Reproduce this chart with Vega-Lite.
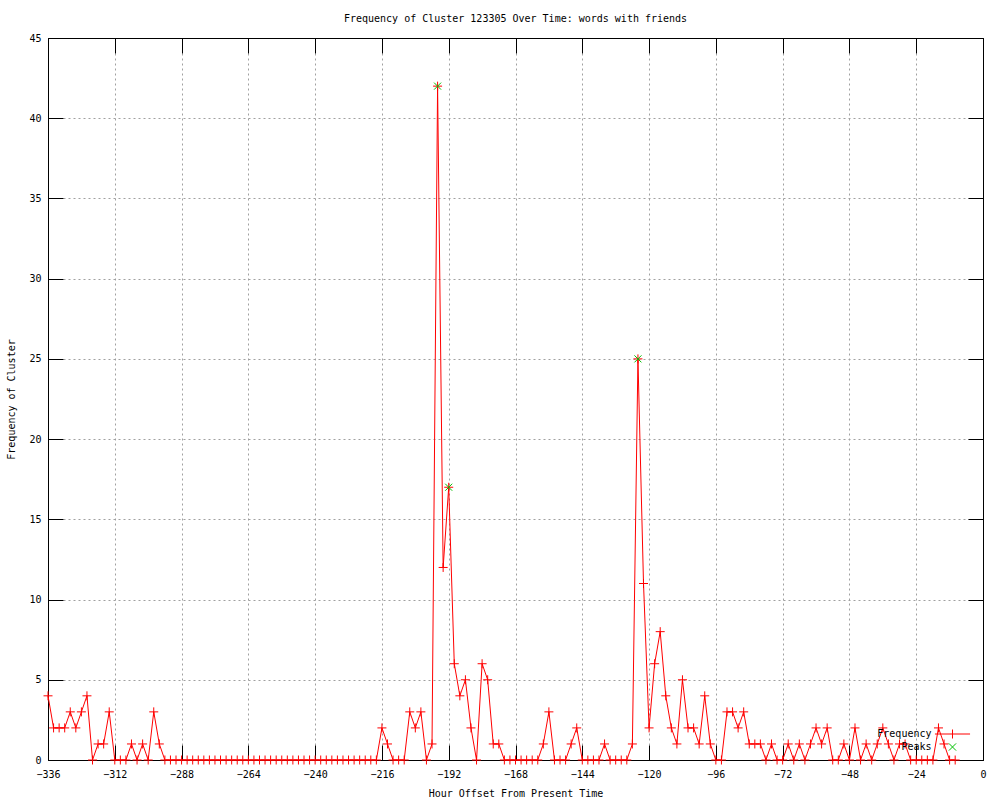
{
  "$schema": "https://vega.github.io/schema/vega-lite/v6.json",
  "width": 935,
  "height": 722,
  "autosize": {"type": "none"},
  "padding": {"left": 48, "top": 38, "right": 17, "bottom": 40},
  "background": "white",
  "title": {
    "text": "Frequency of Cluster 123305 Over Time: words with friends",
    "font": "DejaVu Sans Mono",
    "fontSize": 10,
    "fontWeight": "normal",
    "color": "black",
    "anchor": "middle",
    "offset": 9
  },
  "datasets": {
    "freq": [
      {"hour": -336, "freq": 4}, {"hour": -334, "freq": 2}, {"hour": -332, "freq": 2}, {"hour": -330, "freq": 2},
      {"hour": -328, "freq": 3}, {"hour": -326, "freq": 2}, {"hour": -324, "freq": 3}, {"hour": -322, "freq": 4},
      {"hour": -320, "freq": 0}, {"hour": -318, "freq": 1}, {"hour": -316, "freq": 1}, {"hour": -314, "freq": 3},
      {"hour": -312, "freq": 0}, {"hour": -310, "freq": 0}, {"hour": -308, "freq": 0}, {"hour": -306, "freq": 1},
      {"hour": -304, "freq": 0}, {"hour": -302, "freq": 1}, {"hour": -300, "freq": 0}, {"hour": -298, "freq": 3},
      {"hour": -296, "freq": 1}, {"hour": -294, "freq": 0}, {"hour": -292, "freq": 0}, {"hour": -290, "freq": 0},
      {"hour": -288, "freq": 0}, {"hour": -286, "freq": 0}, {"hour": -284, "freq": 0}, {"hour": -282, "freq": 0},
      {"hour": -280, "freq": 0}, {"hour": -278, "freq": 0}, {"hour": -276, "freq": 0}, {"hour": -274, "freq": 0},
      {"hour": -272, "freq": 0}, {"hour": -270, "freq": 0}, {"hour": -268, "freq": 0}, {"hour": -266, "freq": 0},
      {"hour": -264, "freq": 0}, {"hour": -262, "freq": 0}, {"hour": -260, "freq": 0}, {"hour": -258, "freq": 0},
      {"hour": -256, "freq": 0}, {"hour": -254, "freq": 0}, {"hour": -252, "freq": 0}, {"hour": -250, "freq": 0},
      {"hour": -248, "freq": 0}, {"hour": -246, "freq": 0}, {"hour": -244, "freq": 0}, {"hour": -242, "freq": 0},
      {"hour": -240, "freq": 0}, {"hour": -238, "freq": 0}, {"hour": -236, "freq": 0}, {"hour": -234, "freq": 0},
      {"hour": -232, "freq": 0}, {"hour": -230, "freq": 0}, {"hour": -228, "freq": 0}, {"hour": -226, "freq": 0},
      {"hour": -224, "freq": 0}, {"hour": -222, "freq": 0}, {"hour": -220, "freq": 0}, {"hour": -218, "freq": 0},
      {"hour": -216, "freq": 2}, {"hour": -214, "freq": 1}, {"hour": -212, "freq": 0}, {"hour": -210, "freq": 0},
      {"hour": -208, "freq": 0}, {"hour": -206, "freq": 3}, {"hour": -204, "freq": 2}, {"hour": -202, "freq": 3},
      {"hour": -200, "freq": 0}, {"hour": -198, "freq": 1}, {"hour": -196, "freq": 42}, {"hour": -194, "freq": 12},
      {"hour": -192, "freq": 17}, {"hour": -190, "freq": 6}, {"hour": -188, "freq": 4}, {"hour": -186, "freq": 5},
      {"hour": -184, "freq": 2}, {"hour": -182, "freq": 0}, {"hour": -180, "freq": 6}, {"hour": -178, "freq": 5},
      {"hour": -176, "freq": 1}, {"hour": -174, "freq": 1}, {"hour": -172, "freq": 0}, {"hour": -170, "freq": 0},
      {"hour": -168, "freq": 0}, {"hour": -166, "freq": 0}, {"hour": -164, "freq": 0}, {"hour": -162, "freq": 0},
      {"hour": -160, "freq": 0}, {"hour": -158, "freq": 1}, {"hour": -156, "freq": 3}, {"hour": -154, "freq": 0},
      {"hour": -152, "freq": 0}, {"hour": -150, "freq": 0}, {"hour": -148, "freq": 1}, {"hour": -146, "freq": 2},
      {"hour": -144, "freq": 0}, {"hour": -142, "freq": 0}, {"hour": -140, "freq": 0}, {"hour": -138, "freq": 0},
      {"hour": -136, "freq": 1}, {"hour": -134, "freq": 0}, {"hour": -132, "freq": 0}, {"hour": -130, "freq": 0},
      {"hour": -128, "freq": 0}, {"hour": -126, "freq": 1}, {"hour": -124, "freq": 25}, {"hour": -122, "freq": 11},
      {"hour": -120, "freq": 2}, {"hour": -118, "freq": 6}, {"hour": -116, "freq": 8}, {"hour": -114, "freq": 4},
      {"hour": -112, "freq": 2}, {"hour": -110, "freq": 1}, {"hour": -108, "freq": 5}, {"hour": -106, "freq": 2},
      {"hour": -104, "freq": 2}, {"hour": -102, "freq": 1}, {"hour": -100, "freq": 4}, {"hour": -98, "freq": 1},
      {"hour": -96, "freq": 0}, {"hour": -94, "freq": 0}, {"hour": -92, "freq": 3}, {"hour": -90, "freq": 3},
      {"hour": -88, "freq": 2}, {"hour": -86, "freq": 3}, {"hour": -84, "freq": 1}, {"hour": -82, "freq": 1},
      {"hour": -80, "freq": 1}, {"hour": -78, "freq": 0}, {"hour": -76, "freq": 1}, {"hour": -74, "freq": 0},
      {"hour": -72, "freq": 0}, {"hour": -70, "freq": 1}, {"hour": -68, "freq": 0}, {"hour": -66, "freq": 1},
      {"hour": -64, "freq": 0}, {"hour": -62, "freq": 1}, {"hour": -60, "freq": 2}, {"hour": -58, "freq": 1},
      {"hour": -56, "freq": 2}, {"hour": -54, "freq": 0}, {"hour": -52, "freq": 0}, {"hour": -50, "freq": 1},
      {"hour": -48, "freq": 0}, {"hour": -46, "freq": 2}, {"hour": -44, "freq": 0}, {"hour": -42, "freq": 1},
      {"hour": -40, "freq": 0}, {"hour": -38, "freq": 1}, {"hour": -36, "freq": 2}, {"hour": -34, "freq": 1},
      {"hour": -32, "freq": 0}, {"hour": -30, "freq": 1}, {"hour": -28, "freq": 1}, {"hour": -26, "freq": 0},
      {"hour": -24, "freq": 0}, {"hour": -22, "freq": 0}, {"hour": -20, "freq": 0}, {"hour": -18, "freq": 0},
      {"hour": -16, "freq": 2}, {"hour": -14, "freq": 1}, {"hour": -12, "freq": 0}, {"hour": -10, "freq": 0}
    ],
    "peaks": [
      {"hour": -196, "freq": 42},
      {"hour": -192, "freq": 17},
      {"hour": -124, "freq": 25}
    ]
  },
  "layer": [
    {
      "data": {"name": "freq"},
      "mark": {"type": "line", "color": "#ff0000", "strokeWidth": 1, "clip": false},
      "encoding": {
        "x": {
          "field": "hour", "type": "quantitative",
          "scale": {"domain": [-336, 0], "nice": false, "zero": false},
          "axis": {
            "orient": "bottom",
            "values": [-336, -312, -288, -264, -240, -216, -192, -168, -144, -120, -96, -72, -48, -24, 0],
            "format": "d",
            "title": "Hour Offset From Present Time",
            "grid": true,
            "tickSize": -15,
            "labelPadding": 24,
            "titlePadding": 9,
            "labelFlush": false,
            "labelOverlap": false
          }
        },
        "y": {
          "field": "freq", "type": "quantitative",
          "scale": {"domain": [0, 45], "nice": false},
          "axis": {
            "orient": "left",
            "values": [0, 5, 10, 15, 20, 25, 30, 35, 40, 45],
            "title": "Frequency of Cluster",
            "grid": true,
            "tickSize": -15,
            "labelPadding": 22,
            "titlePadding": 12,
            "labelFlush": false,
            "labelOverlap": false
          }
        }
      }
    },
    {
      "data": {"name": "freq"},
      "mark": {"type": "point", "shape": "M-1,0L1,0M0,-1L0,1", "size": 81, "filled": false, "strokeWidth": 1, "opacity": 1, "clip": false},
      "encoding": {
        "x": {
          "field": "hour", "type": "quantitative",
          "axis": {
            "orient": "top",
            "values": [-336, -312, -288, -264, -240, -216, -192, -168, -144, -120, -96, -72, -48, -24, 0],
            "labels": false, "grid": false, "title": null, "tickSize": -15
          }
        },
        "y": {
          "field": "freq", "type": "quantitative",
          "axis": {
            "orient": "right",
            "values": [0, 5, 10, 15, 20, 25, 30, 35, 40, 45],
            "labels": false, "grid": false, "title": null, "tickSize": -15
          }
        },
        "color": {
          "datum": "Frequency", "type": "nominal",
          "scale": {"domain": ["Frequency"], "range": ["#ff0000"]},
          "legend": {
            "title": null,
            "orient": "none",
            "legendX": 899.5,
            "legendY": 691,
            "padding": 0,
            "symbolType": "M-3.9,0L3.9,0M0,-1L0,1",
            "symbolSize": 81,
            "symbolStrokeWidth": 1,
            "symbolFillColor": "transparent",
            "labelAlign": "right",
            "labelOffset": -26,
            "labelFont": "DejaVu Sans Mono",
            "labelFontSize": 10,
            "labelColor": "black"
          }
        }
      }
    },
    {
      "data": {"name": "peaks"},
      "mark": {"type": "point", "shape": "M-1,-1L1,1M-1,1L1,-1", "size": 49, "filled": false, "strokeWidth": 1, "opacity": 1, "clip": false},
      "encoding": {
        "x": {"field": "hour", "type": "quantitative", "axis": null},
        "y": {"field": "freq", "type": "quantitative", "axis": null},
        "stroke": {
          "datum": "Peaks", "type": "nominal",
          "scale": {"domain": ["Peaks"], "range": ["#00c000"]},
          "legend": {
            "title": null,
            "orient": "none",
            "legendX": 899.5,
            "legendY": 704,
            "padding": 0,
            "symbolType": "M-0.8,-0.8L0.8,0.8M-0.8,0.8L0.8,-0.8",
            "symbolSize": 81,
            "symbolStrokeWidth": 1,
            "symbolFillColor": "transparent",
            "labelAlign": "right",
            "labelOffset": -26,
            "labelFont": "DejaVu Sans Mono",
            "labelFontSize": 10,
            "labelColor": "black"
          }
        }
      }
    }
  ],
  "resolve": {"axis": {"x": "independent", "y": "independent"}},
  "config": {
    "view": {"stroke": "black", "strokeWidth": 1},
    "axis": {
      "labelFont": "DejaVu Sans Mono",
      "labelFontSize": 10,
      "labelColor": "black",
      "titleFont": "DejaVu Sans Mono",
      "titleFontSize": 10,
      "titleFontWeight": "normal",
      "titleColor": "black",
      "domainColor": "black",
      "domainWidth": 1,
      "tickColor": "black",
      "tickWidth": 1,
      "gridColor": "#a0a0a0",
      "gridDash": [2, 3],
      "gridWidth": 1,
      "gridOpacity": 1
    }
  }
}
